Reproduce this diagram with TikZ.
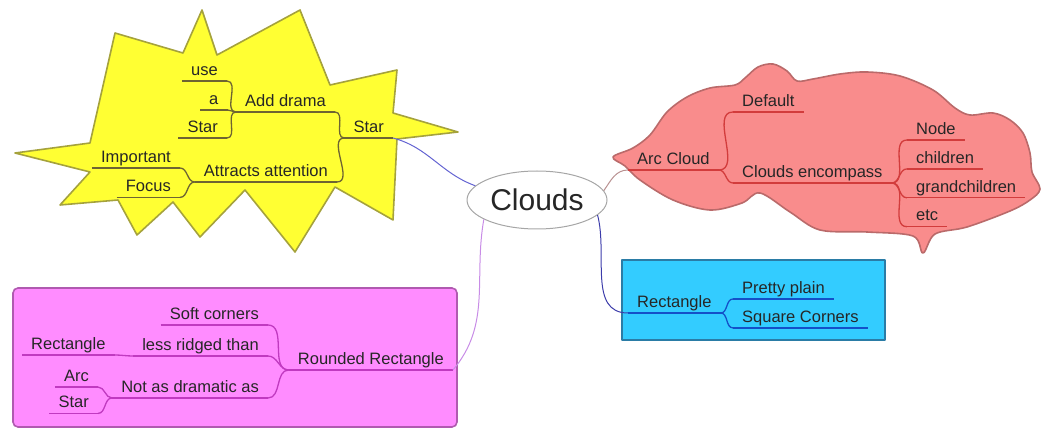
\documentclass[tikz,border=0pt]{standalone}
\usepackage{fontspec}
\setmainfont{Liberation Sans}
\usetikzlibrary{shapes.geometric,positioning}
\definecolor{yellowfill}{HTML}{FFFF33}
\definecolor{yellowrim}{HTML}{A5A23C}
\definecolor{yellowink}{HTML}{6E6432}
\definecolor{pinkfill}{HTML}{F98C8C}
\definecolor{pinkrim}{HTML}{BA6A6A}
\definecolor{pinkink}{HTML}{D23C3C}
\definecolor{cyanfill}{HTML}{33CCFF}
\definecolor{cyanrim}{HTML}{2A7CA6}
\definecolor{cyanink}{HTML}{1450C8}
\definecolor{magfill}{HTML}{FF8CFF}
\definecolor{magrim}{HTML}{B05AB0}
\definecolor{magink}{HTML}{C03AC0}
\definecolor{textink}{HTML}{262626}
\definecolor{rootblue}{HTML}{6464D2}
\definecolor{rootrose}{HTML}{B89090}
\definecolor{rootnavy}{HTML}{3C3CAA}
\definecolor{rootviolet}{HTML}{C88CE6}
\tikzset{
  topic/.style={inner xsep=9pt, inner ysep=2pt, text height=12pt, text depth=3.5pt,
    font=\fontsize{16.5}{19}\selectfont, text=textink},
  twig/.style={out=0, in=180},
  rim/.style={line width=1.6pt, line join=round},
  yline/.style={yellowink, line width=1.3pt},
  rline/.style={pinkink, line width=1.3pt},
  bline/.style={cyanink, line width=1.3pt},
  pline/.style={magink, line width=1.3pt},
}

\begin{document}
\begin{tikzpicture}[x=1pt,y=-1pt]
\useasboundingbox (0,0) rectangle (1042,430);

% backgrounds of the four branches
\draw[rim, yellowrim, fill=yellowfill] (15,153) -- (90,143) -- (115,33) -- (183,53) -- (202,10)
  -- (217,55) -- (300,10) -- (330,85) -- (397,70) -- (393,113) -- (458,132) -- (397,139)
  -- (393,220) -- (335,187) -- (295,252) -- (245,190) -- (200,237) -- (173,202)
  -- (137,235) -- (118,200) -- (60,205) -- (90,172) -- cycle;
\draw[rim, pinkrim, fill=pinkfill] plot[smooth cycle, tension=0.55] coordinates {
  (613,157) (633,148) (650,135) (667,112) (687,97) (710,88) (735,85) (745,78) (758,67)
  (773,64) (787,71) (797,81) (813,79) (840,74) (867,72) (900,76) (933,90) (955,108)
  (970,115) (993,113) (1010,120) (1023,133) (1030,153) (1032,172) (1040,189) (1030,200)
  (1010,211) (967,227) (935,234) (923,253) (913,236) (867,232) (820,230) (790,212)
  (760,193) (742,203) (710,210) (673,200) (640,180) (625,166)};
\draw[rim, cyanrim, fill=cyanfill] (622,260) rectangle (885,340);
\draw[rim, magrim, fill=magfill, rounded corners=5pt] (13,288) rectangle (457,427);

% root
\node[ellipse, draw=gray!70, fill=white, line width=1pt, minimum width=140pt,
  minimum height=58pt, inner sep=1pt, font=\fontsize{30}{34}\selectfont, text=textink]
  (clouds) at (537,200) {Clouds};

% star
\node[topic, anchor=south east] (st) at (393,138) {Star};
\node[topic, anchor=south east] (drama) at (335,112) {Add drama};
\node[topic, anchor=south east] (attn) at (337,182) {Attracts attention};
\node[topic, anchor=south east] (use) at (227,81) {use};
\node[topic, anchor=south west] (a) at (200,110) {a};
\node[topic, anchor=south east] (stx) at (227,138) {Star};
\node[topic, anchor=south east] (imp) at (180,168) {Important};
\node[topic, below=9.5pt of imp.south east, anchor=north east] (focus) {Focus};

% arc cloud
\node[topic, anchor=south west] (arc) at (628,170) {Arc Cloud};
\node[topic, anchor=south west] (dflt) at (733,112) {Default};
\node[topic, anchor=south west] (enc) at (733,183) {Clouds encompass};
\node[topic, anchor=south west] (nd) at (907,140) {Node};
\node[topic, below=9pt of nd.south west, anchor=north west] (kids) {children};
\node[topic, below=9pt of kids.south west, anchor=north west] (gkids) {grandchildren};
\node[topic, below=9pt of gkids.south west, anchor=north west] (etc) {etc};

% rectangle
\node[topic, anchor=south west] (rect) at (628,313) {Rectangle};
\node[topic, anchor=south west] (plain) at (733,299) {Pretty plain};
\node[topic, below=9pt of plain.south west, anchor=north west] (sqr) {Square Corners};

% rounded rectangle
\node[topic, anchor=south east] (rnd) at (453,370) {Rounded Rectangle};
\node[topic, anchor=south east] (soft) at (268,325) {Soft corners};
\node[topic, anchor=south east] (ridg) at (268,356) {less ridged than};
\node[topic, anchor=south east] (dram) at (268,398) {Not as dramatic as};
\node[topic, anchor=south west] (rectx) at (22,355) {Rectangle};
\node[topic, anchor=south east] (arcx) at (98,387) {Arc};
\node[topic, below=6.5pt of arcx.south east, anchor=north east] (starx) {Star};

% underlines and forks
\foreach \n in {st,drama,attn,use,a,stx,imp,focus}
  \draw[yline] (\n.south west) -- (\n.south east);
\foreach \c/\p in {use/drama,a/drama,stx/drama,drama/st,attn/st,imp/attn,focus/attn}
  \draw[yline] (\c.south east) to[twig] (\p.south west);
\foreach \n in {arc,dflt,enc,nd,kids,gkids,etc}
  \draw[rline] (\n.south west) -- (\n.south east);
\foreach \p/\c in {arc/dflt,arc/enc,enc/nd,enc/kids,enc/gkids,enc/etc}
  \draw[rline] (\p.south east) to[twig] (\c.south west);
\foreach \n in {rect,plain,sqr}
  \draw[bline] (\n.south west) -- (\n.south east);
\foreach \p/\c in {rect/plain,rect/sqr}
  \draw[bline] (\p.south east) to[twig] (\c.south west);
\foreach \n in {rnd,soft,ridg,dram,rectx,arcx,starx}
  \draw[pline] (\n.south west) -- (\n.south east);
\foreach \c/\p in {soft/rnd,ridg/rnd,dram/rnd,rectx/ridg,arcx/dram,starx/dram}
  \draw[pline] (\c.south east) to[twig] (\p.south west);

% links to the root
\draw[line width=1pt, rootblue] (st.south east) to[out=-15,in=160] (clouds.167);
\draw[line width=1pt, rootrose] (clouds.8) to[out=55,in=180] (arc.south west);
\draw[line width=1pt, rootnavy] (clouds.-14) to[out=-75,in=180] (rect.south west);
\draw[line width=1pt, rootviolet] (rnd.south east) to[out=50,in=-100] (clouds.200);
\end{tikzpicture}
\end{document}
